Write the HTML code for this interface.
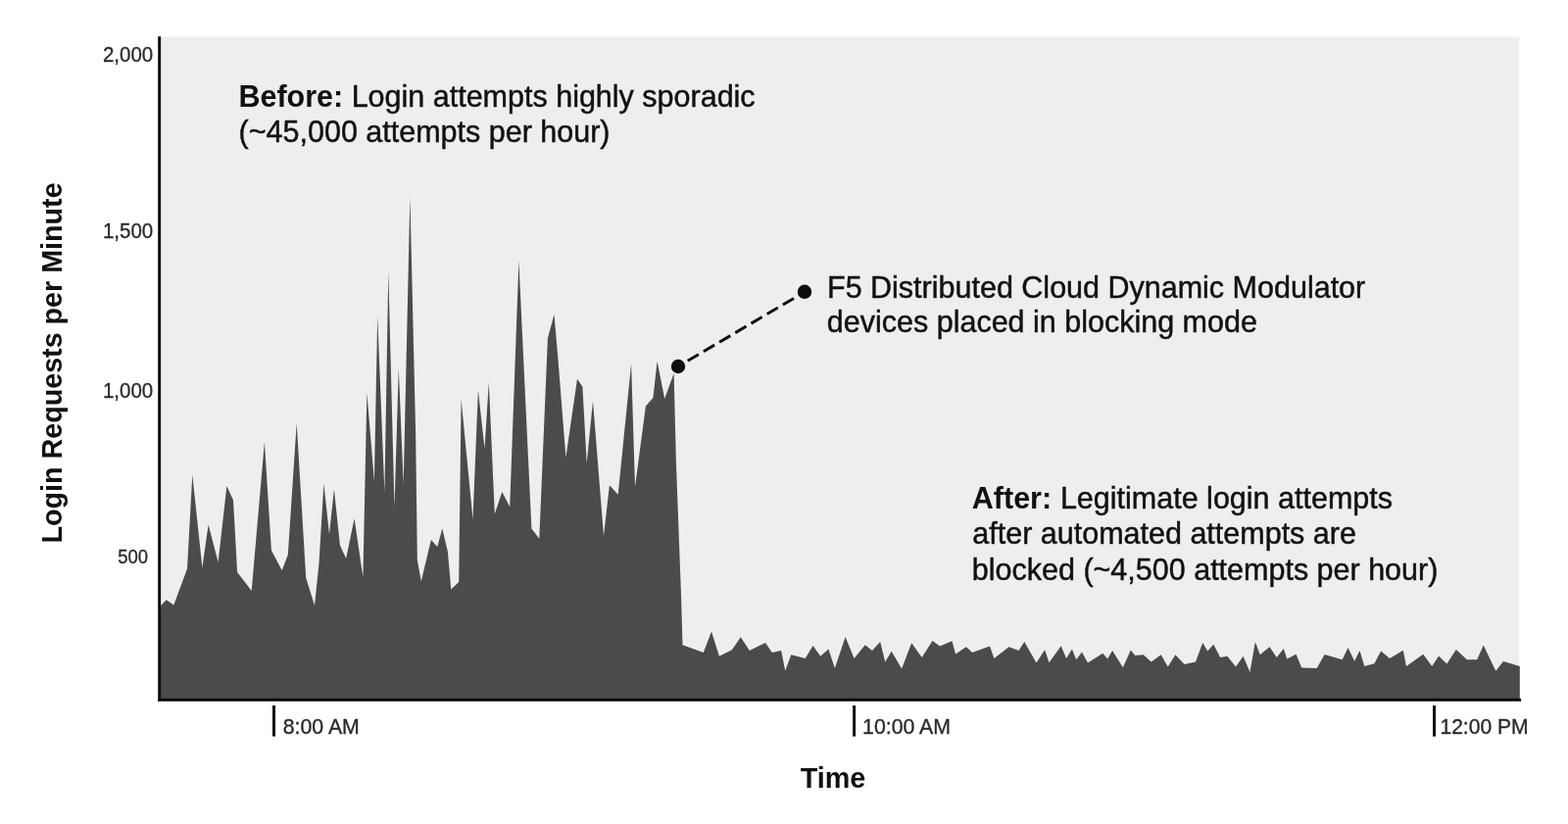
<!DOCTYPE html>
<html><head><meta charset="utf-8"><title>Login Requests per Minute</title>
<style>
html,body{margin:0;padding:0;background:#fff;}
body{width:1600px;height:841px;overflow:hidden;}
svg{display:block;}
text{font-family:"Liberation Sans",Arial,Helvetica,sans-serif;fill:#111;}
.tick{font-size:20.5px;fill:#2a2a2a;stroke:#2a2a2a;stroke-width:0.3px;}
.xt{font-size:21.3px;fill:#2a2a2a;stroke:#2a2a2a;stroke-width:0.35px;}
.ann{font-size:30.5px;stroke:#111;stroke-width:0.45px;}
.b{font-weight:bold;stroke:none;}
.ttl{font-size:28.8px;font-weight:bold;}
.yt{font-size:28.7px;font-weight:bold;}
</style></head><body>
<svg width="1600" height="841" viewBox="0 0 1600 841">
<rect x="0" y="0" width="1600" height="841" fill="#ffffff"/>
<rect x="163" y="37.6" width="1387.3" height="677" fill="#eeeeee"/>
<polygon points="163.0,714.0 164.1,618.0 169.8,612.3 177.3,617.4 191.0,580.4 196.3,484.5 206.4,579.5 212.6,535.4 222.6,573.8 231.4,496.0 238.0,510.4 242.1,584.1 256.7,602.9 269.9,451.3 276.9,561.6 287.7,582.3 293.8,566.3 302.7,431.8 312.2,589.8 321.0,618.0 325.5,575.0 330.4,493.5 336.0,545.2 340.9,499.2 346.9,556.5 353.1,570.1 361.6,529.2 370.4,589.2 374.4,400.8 381.9,491.3 385.2,322.5 392.4,502.6 396.3,277.1 402.5,517.5 406.8,376.0 411.7,494.0 418.4,201.2 424.2,445.0 425.8,571.5 429.8,593.2 439.9,551.0 446.3,558.0 451.3,539.5 456.9,563.0 460.3,601.5 468.2,594.0 470.6,407.5 482.5,530.1 487.9,398.3 494.5,457.7 498.8,390.2 504.8,524.5 512.3,502.0 520.2,517.3 529.4,266.2 542.4,539.5 550.3,549.8 558.9,345.2 565.5,321.0 569.4,366.0 577.4,467.1 589.0,386.7 594.4,394.8 598.7,472.7 605.0,409.2 616.0,547.0 621.9,495.2 630.7,504.8 644.1,371.3 648.0,496.7 658.9,414.5 666.4,406.0 670.6,368.8 678.2,407.0 687.6,381.0 689.9,471.5 695.1,610.0 696.5,658.2 717.8,666.1 726.0,644.5 733.9,669.7 746.9,663.2 755.8,650.3 764.8,663.9 781.1,656.0 787.8,666.1 797.2,663.9 801.2,684.8 807.3,668.3 821.7,671.9 829.6,658.9 837.2,669.7 845.4,662.5 851.9,681.9 862.6,650.0 871.6,671.9 882.8,658.2 890.0,663.9 898.2,654.9 903.2,675.4 909.7,664.7 920.1,682.6 930.2,656.3 940.7,671.1 951.5,653.9 959.0,659.6 971.5,654.3 975.1,667.5 986.0,660.3 992.1,666.1 1010.0,659.6 1014.4,671.9 1029.5,660.3 1039.5,663.9 1045.3,654.9 1057.5,676.5 1066.1,663.2 1070.5,676.2 1082.7,659.3 1088.1,671.9 1093.9,662.5 1098.2,673.3 1104.0,665.4 1110.0,676.5 1125.3,666.8 1130.1,672.6 1135.1,663.9 1145.9,681.2 1153.8,663.5 1158.2,669.0 1166.8,668.3 1174.7,675.4 1184.8,668.3 1191.7,680.5 1199.4,668.3 1208.5,677.9 1220.0,675.4 1227.2,656.0 1232.2,664.4 1238.3,657.8 1245.2,671.1 1252.4,669.7 1261.0,680.5 1268.6,669.7 1275.4,686.0 1280.9,654.9 1285.7,668.3 1295.5,660.3 1302.7,671.1 1309.9,662.1 1313.2,672.6 1322.6,667.8 1328.2,681.5 1343.7,681.9 1351.6,668.0 1369.6,673.3 1375.6,661.1 1382.1,674.7 1387.5,663.9 1392.3,680.1 1402.4,677.3 1409.1,664.4 1418.0,671.9 1431.8,663.7 1435.0,680.1 1452.3,667.8 1461.2,680.1 1468.1,669.4 1476.4,677.6 1485.8,662.9 1496.9,673.3 1507.2,673.3 1513.7,658.6 1526.3,684.8 1534.0,675.0 1550.8,680.1 1550.8,714.0" fill="#4b4b4b"/>
<rect x="161.2" y="37.2" width="2.9" height="678.6" fill="#0a0a0a"/>
<rect x="161.2" y="712.8" width="1390.9" height="3" fill="#0a0a0a"/>
<rect x="278" y="720" width="3" height="31.6" fill="#111"/>
<rect x="870.1" y="720" width="3" height="31.6" fill="#111"/>
<rect x="1462" y="720" width="3" height="31.6" fill="#111"/>
<text class="tick" transform="translate(156.2,63.2) scale(1,1.05)" text-anchor="end">2,000</text>
<text class="tick" transform="translate(156.2,243.4) scale(1,1.05)" text-anchor="end">1,500</text>
<text class="tick" transform="translate(156.2,405.7) scale(1,1.05)" text-anchor="end">1,000</text>
<text class="tick" transform="translate(151,574.9) scale(1,1.05)" text-anchor="end" style="font-size:18.5px">500</text>
<text class="xt" transform="translate(288.7,749) scale(1,1.05)">8:00 AM</text>
<text class="xt" transform="translate(880.1,749) scale(1,1.05)">10:00 AM</text>
<text class="xt" style="font-size:21.1px" transform="translate(1469.4,749) scale(1,1.05)">12:00 PM</text>
<text class="ttl" x="816.7" y="803.7">Time</text>
<text class="yt" transform="translate(63.3,554.5) rotate(-90) scale(1,1.035)">Login Requests per Minute</text>
<text class="ann" x="243.4" y="108.5"><tspan class="b">Before:</tspan> Login attempts highly sporadic</text>
<text class="ann" x="243.6" y="145">(~45,000 attempts per hour)</text>
<text class="ann" x="844" y="303.5">F5 Distributed Cloud Dynamic Modulator</text>
<text class="ann" x="843.8" y="339.1">devices placed in blocking mode</text>
<text class="ann" x="991.8" y="519.2"><tspan class="b">After:</tspan><tspan dx="0.3"> Legitimate login attempts</tspan></text>
<text class="ann" x="992.3" y="555.4">after automated attempts are</text>
<text class="ann" x="991.8" y="592">blocked (~4,500 attempts per hour)</text>
<line x1="701.7" y1="368.3" x2="812" y2="303.3" stroke="#111" stroke-width="3" stroke-dasharray="13 5.8"/>
<circle cx="692" cy="374" r="7.2" fill="#0d0d0d"/>
<circle cx="821" cy="297.8" r="7.2" fill="#0d0d0d"/>
</svg>
</body></html>
